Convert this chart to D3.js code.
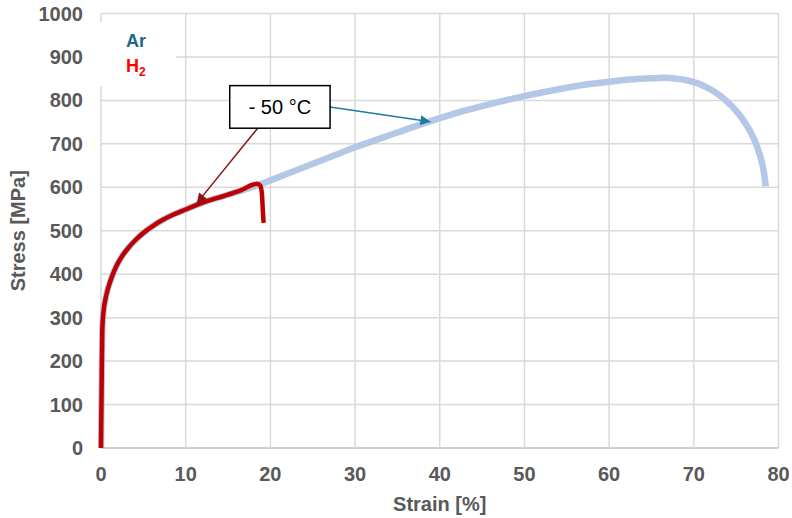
<!DOCTYPE html>
<html>
<head>
<meta charset="utf-8">
<script src="https://cdn.jsdelivr.net/npm/d3@7"></script>
<style>
    body { margin: 0; background: #fff; }
    text { font-family: 'Liberation Sans', Arial, sans-serif; }
    .tick-label { font-size: 20px; font-weight: bold; fill: #595959; }
    .axis-title { font-size: 20px; font-weight: bold; fill: #595959; }
</style>
</head>
<body>
<div id="chartContainer"></div>
<script>
// Ar curve (strain %, stress MPa)
const arStrain = [0, 0.08, 0.15, 0.3, 0.5, 0.75, 1.0, 1.3, 1.85, 2.5, 3.2, 4.2, 5.2, 6.2, 7.2, 8.5, 10, 11.1, 12.5, 14.5, 16.5, 18.4,
    20, 22.5, 25, 27.5, 30, 32.5, 35, 37.5, 40, 42.5, 45, 47.5, 50, 52.5, 55, 57.5, 60, 62.5, 65, 66.5, 68, 69, 70, 71, 72, 73, 74,
    75, 76, 77, 77.5, 78, 78.3, 78.5];
const arStress = [0, 150, 270, 315, 340, 362, 378, 395, 420, 442, 460, 481, 498, 512, 524, 537, 549, 558, 568, 580, 592, 604,
    616, 635, 654, 673, 692, 709, 726, 743, 759, 774, 787, 799, 810, 820, 829, 837, 843, 848, 851, 852, 850, 847, 842, 835, 825, 812, 796,
    776, 750, 716, 692, 660, 632, 602];

// H2 curve
const h2Strain = [0, 0.08, 0.15, 0.3, 0.5, 0.75, 1.0, 1.3, 1.85, 2.5, 3.2, 4.2, 5.2, 6.2, 7.2, 8.5, 10, 11.1, 12.5, 14.5, 16.5, 18.4,
    18.8, 19.0, 19.1, 19.2];
const h2Stress = [0, 150, 270, 315, 340, 362, 378, 395, 420, 442, 460, 481, 498, 512, 524, 537, 549, 558, 568, 580, 593, 608,
    604, 585, 550, 518];

const xTicks = [0, 10, 20, 30, 40, 50, 60, 70, 80];
const yTicks = [0, 100, 200, 300, 400, 500, 600, 700, 800, 900, 1000];

const svgWidth = 792;
const svgHeight = 518;
const margin = { top: 13.5, right: 13.5, bottom: 70, left: 101 };
const chartWidth = svgWidth - margin.left - margin.right;
const chartHeight = svgHeight - margin.top - margin.bottom;

const svg = d3.select('#chartContainer')
    .append('svg')
    .attr('width', svgWidth)
    .attr('height', svgHeight);

const defs = svg.append('defs');
function addArrow(id, color) {
    defs.append('marker')
        .attr('id', id)
        .attr('viewBox', '0 0 10 10')
        .attr('refX', 10)
        .attr('refY', 5)
        .attr('markerWidth', 13)
        .attr('markerHeight', 10)
        .attr('markerUnits', 'userSpaceOnUse')
        .attr('orient', 'auto')
        .append('path')
        .attr('d', 'M0,0 L10,5 L0,10 Z')
        .attr('fill', color);
}
addArrow('arrowBlue', '#1f7a9e');
addArrow('arrowRed', '#8b1414');

const xScale = d3.scaleLinear().domain([0, 80]).range([0, chartWidth]);
const yScale = d3.scaleLinear().domain([0, 1000]).range([chartHeight, 0]);

const chart = svg.append('g')
    .attr('transform', `translate(${margin.left}, ${margin.top})`);

// gridlines
chart.append('g')
    .selectAll('line')
    .data(yTicks)
    .enter().append('line')
    .attr('x1', 0)
    .attr('x2', chartWidth)
    .attr('y1', d => yScale(d))
    .attr('y2', d => yScale(d))
    .attr('stroke', d => d === 0 ? '#bfbfbf' : '#d9d9d9')
    .attr('stroke-width', 1.5);

chart.append('g')
    .selectAll('line')
    .data(xTicks)
    .enter().append('line')
    .attr('x1', d => xScale(d))
    .attr('x2', d => xScale(d))
    .attr('y1', 0)
    .attr('y2', chartHeight)
    .attr('stroke', '#d9d9d9')
    .attr('stroke-width', 1.5);

// legend box (white background over grid)
const legend = chart.append('g')
    .attr('transform', `translate(${xScale(-0.6)}, ${yScale(980)})`);
legend.append('rect')
    .attr('width', 80)
    .attr('height', 64)
    .attr('fill', '#fff');
legend.append('text')
    .attr('x', 30)
    .attr('y', 24.5)
    .attr('font-size', 18)
    .attr('font-weight', 'bold')
    .attr('fill', '#1b6a8a')
    .text('Ar');
const h2Label = legend.append('text')
    .attr('x', 30)
    .attr('y', 50)
    .attr('font-size', 18)
    .attr('font-weight', 'bold')
    .attr('fill', '#ff0000');
h2Label.append('tspan').text('H');
h2Label.append('tspan')
    .attr('font-size', 12)
    .attr('dy', 4)
    .text('2');

const line = d3.line()
    .x(d => xScale(d[0]))
    .y(d => yScale(d[1]))
    .curve(d3.curveMonotoneX);

const arData = arStrain.map((s, i) => [s, arStress[i]]);
const h2Data = h2Strain.map((s, i) => [s, h2Stress[i]]);

chart.append('path')
    .datum(arData)
    .attr('d', line)
    .attr('fill', 'none')
    .attr('stroke', '#b4c7e7')
    .attr('stroke-width', 6.5)
    .attr('stroke-linejoin', 'round');

chart.append('path')
    .datum(h2Data)
    .attr('d', line)
    .attr('fill', 'none')
    .attr('stroke', '#c00000')
    .attr('stroke-width', 4.5)
    .attr('stroke-linejoin', 'round');

// annotation
const note = { x0: 15.2, x1: 27.05, y0: 736, y1: 834, label: '- 50 °C' };
const noteMidY = (note.y0 + note.y1) / 2;

chart.append('line')
    .attr('x1', xScale(note.x1))
    .attr('y1', yScale(785))
    .attr('x2', xScale(38.9))
    .attr('y2', yScale(751))
    .attr('stroke', '#1f7a9e')
    .attr('stroke-width', 1.5)
    .attr('marker-end', 'url(#arrowBlue)');

chart.append('line')
    .attr('x1', xScale(18.5))
    .attr('y1', yScale(note.y0))
    .attr('x2', xScale(11.3))
    .attr('y2', yScale(563))
    .attr('stroke', '#8b1414')
    .attr('stroke-width', 1.5)
    .attr('marker-end', 'url(#arrowRed)');

chart.append('rect')
    .attr('x', xScale(note.x0))
    .attr('y', yScale(note.y1))
    .attr('width', xScale(note.x1) - xScale(note.x0))
    .attr('height', yScale(note.y0) - yScale(note.y1))
    .attr('fill', '#fff')
    .attr('stroke', '#000')
    .attr('stroke-width', 1.5);

chart.append('text')
    .attr('x', xScale((note.x0 + note.x1) / 2))
    .attr('y', yScale(noteMidY) + 7)
    .attr('text-anchor', 'middle')
    .attr('font-size', 20)
    .attr('fill', '#000')
    .text(note.label);

// tick labels
chart.append('g')
    .selectAll('text')
    .data(yTicks)
    .enter().append('text')
    .attr('class', 'tick-label')
    .attr('x', -18)
    .attr('y', d => yScale(d) + 7)
    .attr('text-anchor', 'end')
    .text(d => d);

chart.append('g')
    .selectAll('text')
    .data(xTicks)
    .enter().append('text')
    .attr('class', 'tick-label')
    .attr('x', d => xScale(d))
    .attr('y', chartHeight + 33)
    .attr('text-anchor', 'middle')
    .text(d => d);

chart.append('text')
    .attr('class', 'axis-title')
    .attr('x', chartWidth / 2)
    .attr('y', chartHeight + 63)
    .attr('text-anchor', 'middle')
    .text('Strain [%]');

chart.append('text')
    .attr('class', 'axis-title')
    .attr('x', -chartHeight / 2)
    .attr('y', -margin.left + 25)
    .attr('text-anchor', 'middle')
    .attr('transform', 'rotate(-90)')
    .text('Stress [MPa]');
</script>
</body>
</html>
